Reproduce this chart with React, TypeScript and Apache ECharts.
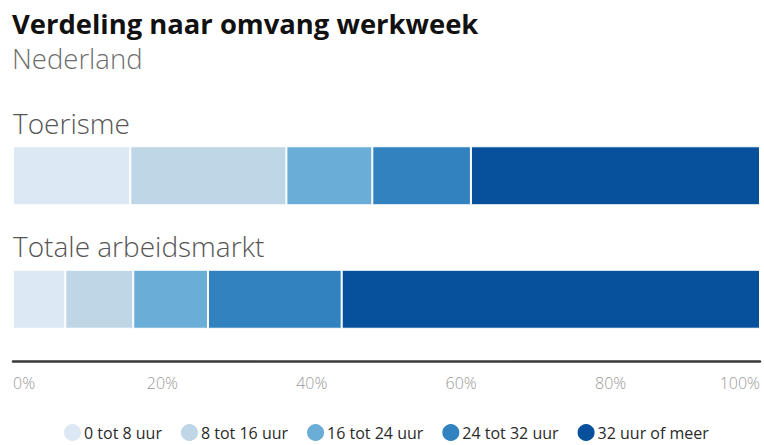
import React, { useEffect, useRef } from "react";
import * as echarts from "echarts";

const categories = ["Toerisme", "Totale arbeidsmarkt"];
const seriesNames = ["0 tot 8 uur", "8 tot 16 uur", "16 tot 24 uur", "24 tot 32 uur", "32 uur of meer"];
const s0to8 = [15.7, 7.0];
const s8to16 = [20.9, 9.1];
const s16to24 = [11.5, 10.0];
const s24to32 = [13.2, 17.9];
const s32plus = [38.7, 56.0];
const seriesValues = [s0to8, s8to16, s16to24, s24to32, s32plus];
const colors = ["#dce9f5", "#bed6e6", "#6aadd6", "#3282bf", "#07519c"];

const FONT = "Open Sans";

export default function App() {
  const ref = useRef<HTMLDivElement>(null);
  useEffect(() => {
    if (!ref.current) return;
    const chart = echarts.init(ref.current, null, { renderer: "svg" });
    chart.setOption({
      animation: false,
      textStyle: { fontFamily: FONT },
      title: [
        {
          text: "Verdeling naar omvang werkweek",
          left: 7,
          top: 5,
          textStyle: { fontFamily: FONT, fontWeight: "bold", fontSize: 27.4, color: "#111" },
        },
        {
          text: "Nederland",
          left: 7,
          top: 39,
          textStyle: { fontFamily: FONT, fontWeight: 300, fontSize: 27.5, color: "#6e6e6e" },
        },
      ],
      legend: {
        left: 57,
        top: 419,
        padding: [3, 5, 3, 5],
        icon: "circle",
        itemWidth: 19,
        itemHeight: 19,
        itemGap: 17,
        data: seriesNames,
        textStyle: { fontFamily: FONT, fontSize: 16, lineHeight: 18, color: "#2a2a2a", padding: [0, 0, 0, -3] },
      },
      grid: { left: 13, right: 4, top: 114, bottom: 84, containLabel: false },
      xAxis: {
        type: "value",
        min: 0,
        max: 100,
        interval: 20,
        axisLine: { show: true, lineStyle: { color: "#3a3a3a", width: 2.5 } },
        axisTick: { show: false },
        splitLine: { show: false },
        axisLabel: {
          formatter: "{value}%",
          color: "#9a9a9a",
          fontFamily: FONT,
          fontWeight: 300,
          fontSize: 16,
          margin: 14,
          alignMinLabel: "left",
          alignMaxLabel: "right",
        },
      },
      yAxis: {
        type: "category",
        data: categories,
        inverse: true,
        axisLine: { show: false },
        axisTick: { show: false },
        axisLabel: {
          inside: true,
          margin: 0,
          align: "left",
          verticalAlign: "bottom",
          padding: [0, 0, 39, 0],
          fontFamily: FONT,
          fontWeight: 300,
          fontSize: 28,
          color: "#555",
        },
      },
      series: seriesNames.map((name, i) => ({
        name,
        type: "bar",
        stack: "total",
        barWidth: 59,
        data: seriesValues[i],
        itemStyle: { color: colors[i], borderColor: "#ffffff", borderWidth: 1 },
        emphasis: { disabled: true },
      })),
    });
    return () => chart.dispose();
  }, []);
  return <div ref={ref} style={{ width: 764, height: 445, position: "absolute", left: 0, top: 0 }} />;
}
